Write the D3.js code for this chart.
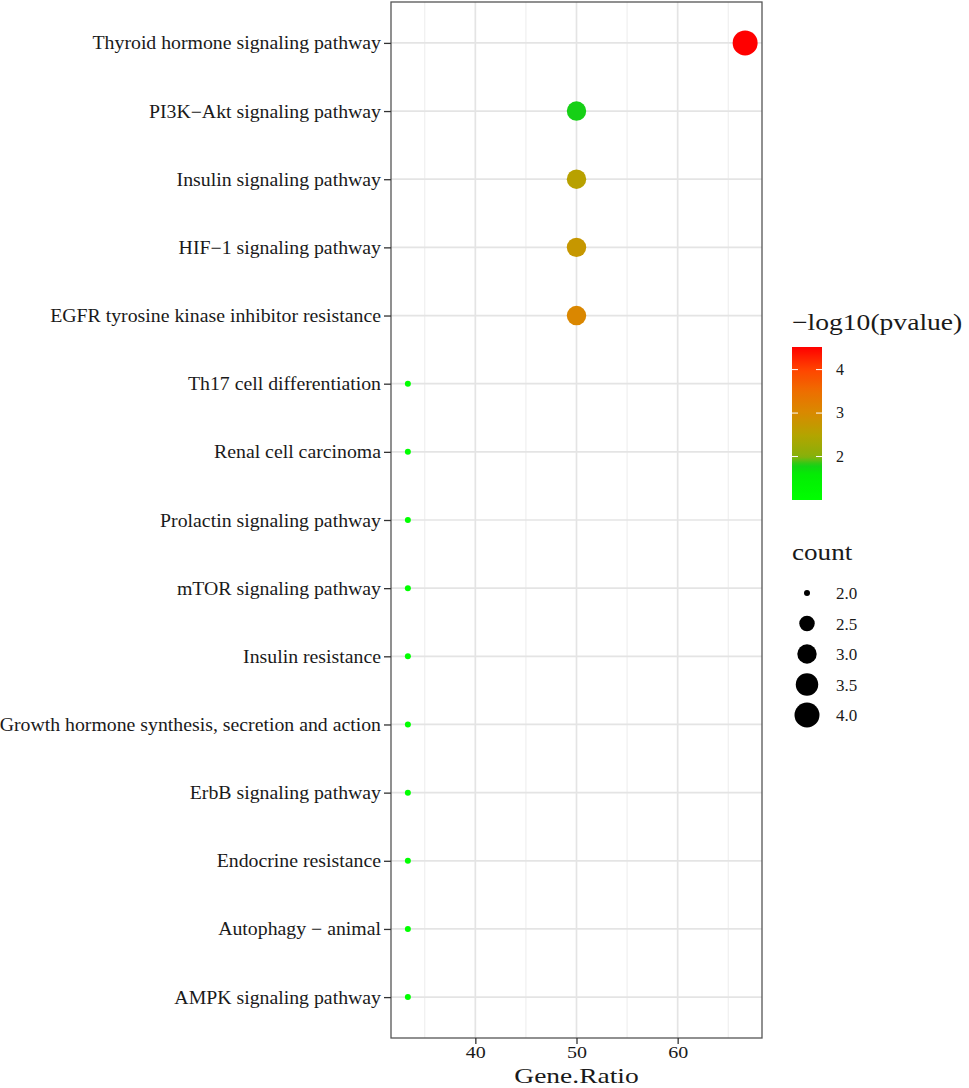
<!DOCTYPE html>
<html>
<head>
<meta charset="utf-8">
<script src="https://cdn.jsdelivr.net/npm/d3@7"></script>
<style>
  body { margin: 0; background: #fff; }
  svg text { font-family: "Liberation Serif", "DejaVu Serif", serif; }
</style>
</head>
<body>
<svg id="chart" width="969" height="1088"></svg>
<script>
// pathways, top to bottom
const pathways = [
  "Thyroid hormone signaling pathway",
  "PI3K\u2212Akt signaling pathway",
  "Insulin signaling pathway",
  "HIF\u22121 signaling pathway",
  "EGFR tyrosine kinase inhibitor resistance",
  "Th17 cell differentiation",
  "Renal cell carcinoma",
  "Prolactin signaling pathway",
  "mTOR signaling pathway",
  "Insulin resistance",
  "Growth hormone synthesis, secretion and action",
  "ErbB signaling pathway",
  "Endocrine resistance",
  "Autophagy \u2212 animal",
  "AMPK signaling pathway"
];
const geneRatio = [66.67, 50, 50, 50, 50, 33.33, 33.33, 33.33, 33.33, 33.33, 33.33, 33.33, 33.33, 33.33, 33.33];
const counts    = [4, 3, 3, 3, 3, 2, 2, 2, 2, 2, 2, 2, 2, 2, 2];
const logP      = [4.52, 1.8, 2.55, 2.75, 3.05, 1.0, 1.0, 1.0, 1.0, 1.0, 1.0, 1.0, 1.0, 1.0, 1.0];

const xTicks = [40, 50, 60];
const xMinor = [35, 45, 55, 65];
const colorTicks = [2, 3, 4];
const sizeBreaks = [2.0, 2.5, 3.0, 3.5, 4.0];

// palette (value -> colour)
const paletteValues = [1.0, 1.6, 1.8, 1.95, 2.0, 2.5, 3.0, 3.5, 4.0, 4.52];
const paletteColors = ["#00ff00", "#04ec04", "#16d016", "#70b810", "#88b00a", "#b4a400",
                       "#d88a00", "#ee6e00", "#ff4400", "#ff0000"];

const data = pathways.map((p, i) => ({ name: p, ratio: geneRatio[i], count: counts[i], logp: logP[i] }));

const svg = d3.select("#chart");
const panel = { left: 391, right: 762, top: 2, bottom: 1038 };
const serif = '"Liberation Serif", "DejaVu Serif", serif';

// squeeze/stretch a text horizontally around its anchor
function stretch(sel, sx) {
  sel.each(function () {
    const t = d3.select(this);
    const tx = +t.attr("x") || 0, ty = +t.attr("y") || 0;
    t.attr("x", 0).attr("y", 0)
      .attr("transform", `translate(${tx},${ty}) scale(${sx},1)`);
  });
}

// scales, with ggplot-like 5% padding
const xExt = d3.extent(geneRatio);
const pad = (xExt[1] - xExt[0]) * 0.05;
const x = d3.scaleLinear().domain([xExt[0] - pad, xExt[1] + pad]).range([panel.left, panel.right]);

const y = d3.scalePoint().domain(pathways).range([panel.top, panel.bottom]).padding(0.6);

const cExt = d3.extent(logP);
const color = d3.scaleLinear().domain(paletteValues).range(paletteColors).clamp(true);

// area-style size scale (min count is the smallest dot)
const sizeMin = d3.min(counts);
const size = d3.scaleSqrt().domain([0, d3.max(counts) - sizeMin]).range([3, 12.5]);
const radius = v => size(v - sizeMin);

// grid lines
svg.append("g").selectAll("line")
  .data(xMinor).join("line")
  .attr("x1", d => x(d)).attr("x2", d => x(d))
  .attr("y1", panel.top).attr("y2", panel.bottom)
  .attr("stroke", "#ececec").attr("stroke-width", 1);

svg.append("g").selectAll("line")
  .data(xTicks).join("line")
  .attr("x1", d => x(d)).attr("x2", d => x(d))
  .attr("y1", panel.top).attr("y2", panel.bottom)
  .attr("stroke", "#e4e4e4").attr("stroke-width", 1.7);

svg.append("g").selectAll("line")
  .data(pathways).join("line")
  .attr("x1", panel.left).attr("x2", panel.right)
  .attr("y1", d => y(d)).attr("y2", d => y(d))
  .attr("stroke", "#e4e4e4").attr("stroke-width", 1.7);

// points
svg.append("g").selectAll("circle")
  .data(data).join("circle")
  .attr("cx", d => x(d.ratio))
  .attr("cy", d => y(d.name))
  .attr("r", d => radius(d.count))
  .attr("fill", d => color(d.logp));

// panel border
svg.append("rect")
  .attr("x", panel.left).attr("y", panel.top)
  .attr("width", panel.right - panel.left).attr("height", panel.bottom - panel.top)
  .attr("fill", "none").attr("stroke", "#555").attr("stroke-width", 1.3);

// axes
const xAxis = svg.append("g")
  .attr("transform", `translate(0,${panel.bottom})`)
  .call(d3.axisBottom(x).tickValues(xTicks).tickSize(6).tickPadding(6));
xAxis.select(".domain").remove();
xAxis.selectAll(".tick line").attr("stroke", "#333").attr("stroke-width", 1.3);
xAxis.selectAll(".tick text").attr("font-size", 16).attr("fill", "#1a1a1a")
  .attr("dy", null).attr("y", 20).style("font-family", serif)
  .call(stretch, 1.25);

const yAxis = svg.append("g")
  .attr("transform", `translate(${panel.left},0)`)
  .call(d3.axisLeft(y).tickSize(7).tickPadding(3));
yAxis.select(".domain").remove();
yAxis.selectAll(".tick line").attr("stroke", "#333").attr("stroke-width", 1.3);
yAxis.selectAll(".tick text").attr("font-size", 18).attr("fill", "#1a1a1a")
  .attr("dy", null).attr("y", 6).style("font-family", serif)
  .call(stretch, 1.1);

svg.append("text")
  .attr("x", (panel.left + panel.right) / 2).attr("y", 1083)
  .attr("text-anchor", "middle").attr("font-size", 22).attr("fill", "#1a1a1a")
  .style("font-family", serif)
  .text("Gene.Ratio")
  .call(stretch, 1.25);

// colour legend
const barX = 792, barW = 30, barTop = 347, barBottom = 500;
const cy = d3.scaleLinear().domain(cExt).range([barBottom, barTop]);

svg.append("text").attr("x", 792).attr("y", 330).attr("font-size", 23)
  .attr("fill", "#1a1a1a").style("font-family", serif)
  .text("\u2212log10(pvalue)")
  .call(stretch, 1.2);

const defs = svg.append("defs");
const grad = defs.append("linearGradient").attr("id", "pgrad")
  .attr("x1", 0).attr("y1", 1).attr("x2", 0).attr("y2", 0);
grad.selectAll("stop")
  .data(d3.range(0, 1.0001, 0.02)).join("stop")
  .attr("offset", d => d)
  .attr("stop-color", d => color(cExt[0] + d * (cExt[1] - cExt[0])));

svg.append("rect")
  .attr("x", barX).attr("y", barTop).attr("width", barW).attr("height", barBottom - barTop)
  .attr("fill", "url(#pgrad)");

const cTick = svg.append("g").selectAll("g").data(colorTicks).join("g");
cTick.append("line").attr("x1", barX).attr("x2", barX + 6)
  .attr("y1", d => cy(d)).attr("y2", d => cy(d)).attr("stroke", "#fff").attr("stroke-width", 1);
cTick.append("line").attr("x1", barX + barW - 6).attr("x2", barX + barW)
  .attr("y1", d => cy(d)).attr("y2", d => cy(d)).attr("stroke", "#fff").attr("stroke-width", 1);
cTick.append("text").attr("x", barX + barW + 14).attr("y", d => cy(d) + 5)
  .attr("font-size", 16).attr("fill", "#1a1a1a").style("font-family", serif)
  .text(d => d);

// size legend
svg.append("text").attr("x", 792).attr("y", 560).attr("font-size", 23)
  .attr("fill", "#1a1a1a").style("font-family", serif)
  .text("count")
  .call(stretch, 1.18);

const sItem = svg.append("g").selectAll("g").data(sizeBreaks).join("g")
  .attr("transform", (d, i) => `translate(807,${593 + i * 30.5})`);
sItem.append("circle").attr("r", d => radius(d)).attr("fill", "#000");
sItem.append("text").attr("x", 29).attr("y", 6).attr("font-size", 17).attr("fill", "#1a1a1a")
  .style("font-family", serif)
  .text(d => d3.format(".1f")(d));
</script>
</body>
</html>
